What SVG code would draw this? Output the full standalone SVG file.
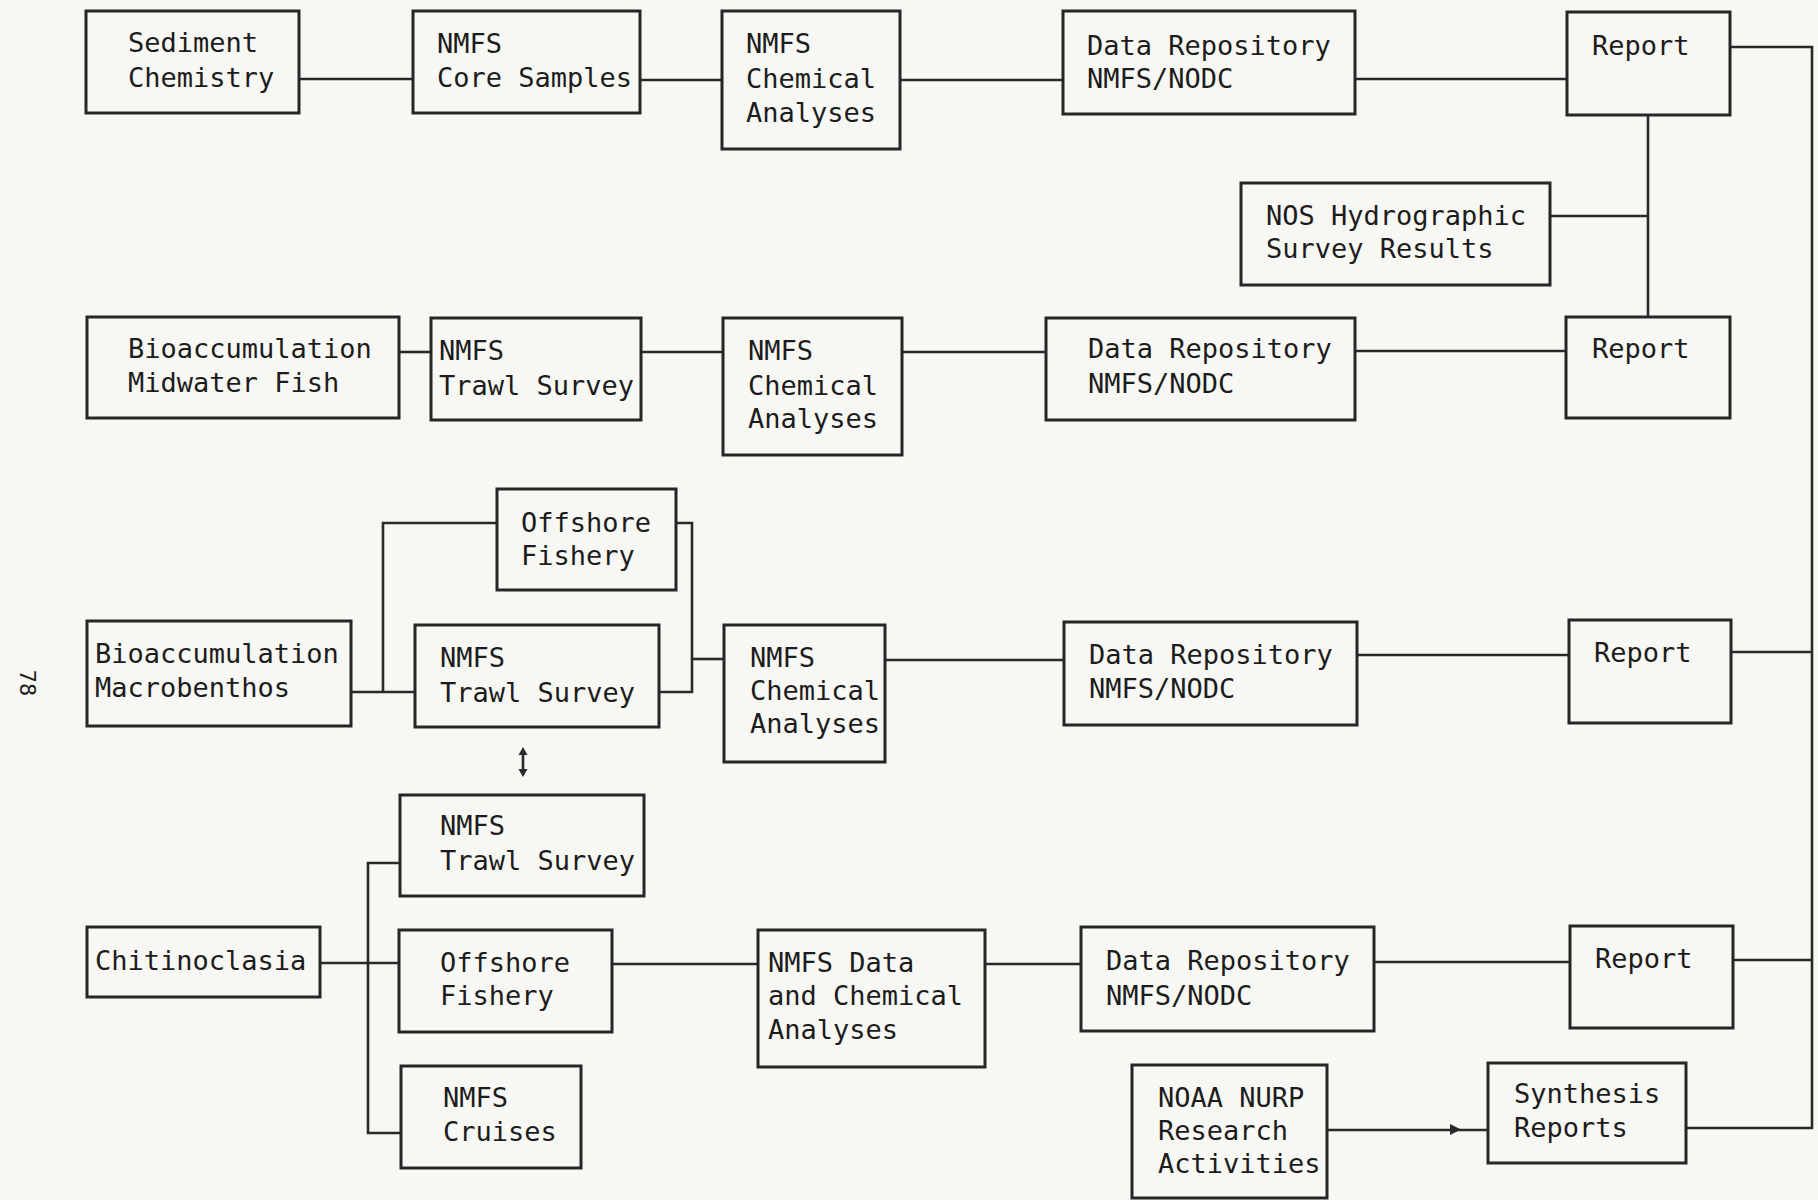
<svg xmlns="http://www.w3.org/2000/svg" width="1818" height="1200" viewBox="0 0 1818 1200">
<style>
.box{fill:none;stroke:#262626;stroke-width:3}
.t{font-family:"DejaVu Sans Mono","Liberation Mono",monospace;font-size:27px;fill:#1c1c1c}
.c{fill:none;stroke:#2a2a2a;stroke-width:2.6}
.h{fill:#2a2a2a}
</style>
<rect width="1818" height="1200" fill="#f7f7f3"/>

<g id="connectors">
<path class="c" d="M299,79 H413"/>
<path class="c" d="M640,80 H722"/>
<path class="c" d="M900,80 H1063"/>
<path class="c" d="M1355,79 H1567"/>
<path class="c" d="M1730,47 H1812 V1128 H1686"/>
<path class="c" d="M1648,115 V317"/>
<path class="c" d="M1550,216 H1648"/>
<path class="c" d="M399,352 H431"/>
<path class="c" d="M641,352 H723"/>
<path class="c" d="M902,352 H1046"/>
<path class="c" d="M1355,351 H1566"/>
<path class="c" d="M351,692 H415"/>
<path class="c" d="M383,692 V523 H497"/>
<path class="c" d="M676,523 H692 V692 H659"/>
<path class="c" d="M692,659 H724"/>
<path class="c" d="M523,752 V772"/>
<path class="h" d="M518.5,755 L523,747 L527.5,755 Z"/>
<path class="h" d="M518.5,769 L523,777 L527.5,769 Z"/>
<path class="c" d="M885,660 H1064"/>
<path class="c" d="M1357,655 H1569"/>
<path class="c" d="M1731,652 H1812"/>
<path class="c" d="M320,963 H399"/>
<path class="c" d="M400,863 H368 V1133 H401"/>
<path class="c" d="M612,964 H758"/>
<path class="c" d="M985,964 H1081"/>
<path class="c" d="M1374,962 H1570"/>
<path class="c" d="M1733,960 H1812"/>
<path class="c" d="M1327,1130 H1488"/>
<path class="h" d="M1450,1124 L1461,1129.5 L1450,1135 Z"/>
</g>

<g id="sediment"><rect class="box" x="86" y="11" width="213" height="102"/><text class="t" x="128" y="52">Sediment</text><text class="t" x="128" y="87">Chemistry</text></g>
<g id="core"><rect class="box" x="413" y="11" width="227" height="102"/><text class="t" x="437" y="53">NMFS</text><text class="t" x="437" y="87">Core Samples</text></g>
<g id="chem1"><rect class="box" x="722" y="11" width="178" height="138"/><text class="t" x="746" y="53">NMFS</text><text class="t" x="746" y="88">Chemical</text><text class="t" x="746" y="122">Analyses</text></g>
<g id="repo1"><rect class="box" x="1063" y="11" width="292" height="103"/><text class="t" x="1087" y="55">Data Repository</text><text class="t" x="1087" y="88">NMFS/NODC</text></g>
<g id="report1"><rect class="box" x="1567" y="12" width="163" height="103"/><text class="t" x="1592" y="55">Report</text></g>
<g id="nos"><rect class="box" x="1241" y="183" width="309" height="102"/><text class="t" x="1266" y="225">NOS Hydrographic</text><text class="t" x="1266" y="258">Survey Results</text></g>
<g id="report2"><rect class="box" x="1566" y="317" width="164" height="101"/><text class="t" x="1592" y="358">Report</text></g>
<g id="biomid"><rect class="box" x="87" y="317" width="312" height="101"/><text class="t" x="128" y="358">Bioaccumulation</text><text class="t" x="128" y="392">Midwater Fish</text></g>
<g id="trawl2"><rect class="box" x="431" y="318" width="210" height="102"/><text class="t" x="439" y="360">NMFS</text><text class="t" x="439" y="395">Trawl Survey</text></g>
<g id="chem2"><rect class="box" x="723" y="318" width="179" height="137"/><text class="t" x="748" y="360">NMFS</text><text class="t" x="748" y="395">Chemical</text><text class="t" x="748" y="428">Analyses</text></g>
<g id="repo2"><rect class="box" x="1046" y="318" width="309" height="102"/><text class="t" x="1088" y="358">Data Repository</text><text class="t" x="1088" y="393">NMFS/NODC</text></g>
<g id="offshore1"><rect class="box" x="497" y="489" width="179" height="101"/><text class="t" x="521" y="532">Offshore</text><text class="t" x="521" y="565">Fishery</text></g>
<g id="biomacro"><rect class="box" x="87" y="621" width="264" height="105"/><text class="t" x="95" y="663">Bioaccumulation</text><text class="t" x="95" y="697">Macrobenthos</text></g>
<g id="trawl3"><rect class="box" x="415" y="625" width="244" height="102"/><text class="t" x="440" y="667">NMFS</text><text class="t" x="440" y="702">Trawl Survey</text></g>
<g id="chem3"><rect class="box" x="724" y="625" width="161" height="137"/><text class="t" x="750" y="667">NMFS</text><text class="t" x="750" y="700">Chemical</text><text class="t" x="750" y="733">Analyses</text></g>
<g id="repo3"><rect class="box" x="1064" y="622" width="293" height="103"/><text class="t" x="1089" y="664">Data Repository</text><text class="t" x="1089" y="698">NMFS/NODC</text></g>
<g id="report3"><rect class="box" x="1569" y="620" width="162" height="103"/><text class="t" x="1594" y="662">Report</text></g>
<g id="trawl4"><rect class="box" x="400" y="795" width="244" height="101"/><text class="t" x="440" y="835">NMFS</text><text class="t" x="440" y="870">Trawl Survey</text></g>
<g id="chitino"><rect class="box" x="87" y="927" width="233" height="70"/><text class="t" x="95" y="970">Chitinoclasia</text></g>
<g id="offshore2"><rect class="box" x="399" y="930" width="213" height="102"/><text class="t" x="440" y="972">Offshore</text><text class="t" x="440" y="1005">Fishery</text></g>
<g id="cruises"><rect class="box" x="401" y="1066" width="180" height="102"/><text class="t" x="443" y="1107">NMFS</text><text class="t" x="443" y="1141">Cruises</text></g>
<g id="nmfsdata"><rect class="box" x="758" y="930" width="227" height="137"/><text class="t" x="768" y="972">NMFS Data</text><text class="t" x="768" y="1005">and Chemical</text><text class="t" x="768" y="1039">Analyses</text></g>
<g id="repo4"><rect class="box" x="1081" y="927" width="293" height="104"/><text class="t" x="1106" y="970">Data Repository</text><text class="t" x="1106" y="1005">NMFS/NODC</text></g>
<g id="report4"><rect class="box" x="1570" y="926" width="163" height="102"/><text class="t" x="1595" y="968">Report</text></g>
<g id="nurp"><rect class="box" x="1132" y="1065" width="195" height="133"/><text class="t" x="1158" y="1107">NOAA NURP</text><text class="t" x="1158" y="1140">Research</text><text class="t" x="1158" y="1173">Activities</text></g>
<g id="synthesis"><rect class="box" x="1488" y="1063" width="198" height="100"/><text class="t" x="1514" y="1103">Synthesis</text><text class="t" x="1514" y="1137">Reports</text></g>

<text class="t" style="font-size:22px" text-anchor="middle" transform="translate(20,683) rotate(90)">78</text>
</svg>
